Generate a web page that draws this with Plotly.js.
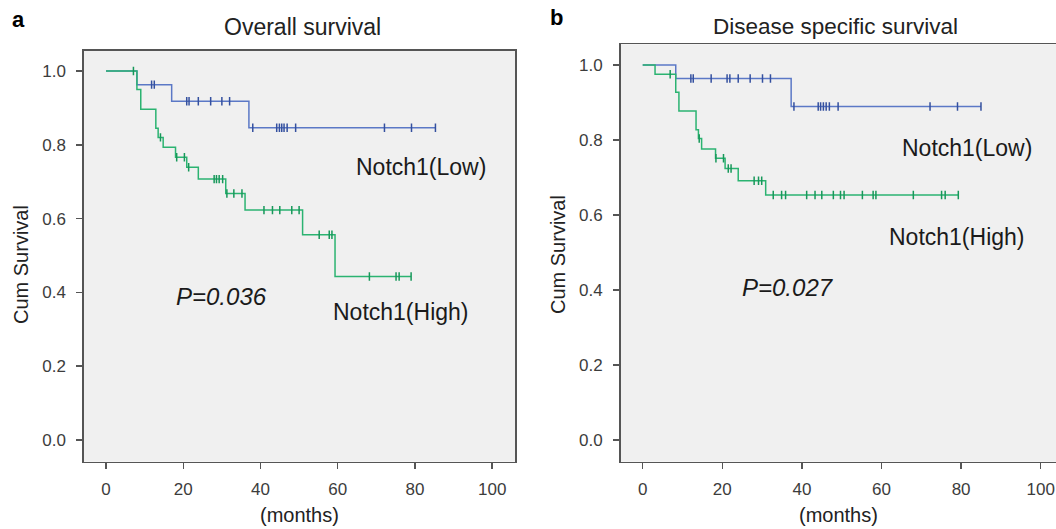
<!DOCTYPE html>
<html>
<head>
<meta charset="utf-8">
<script src="https://cdn.plot.ly/plotly-3.0.1.min.js"></script>
<style>
  html, body { margin: 0; padding: 0; background: #ffffff; }
  #chart { width: 1056px; height: 529px; }
</style>
</head>
<body>
<div id="chart"></div>
<script>
// ---------- Data ----------
// Panel a: Overall survival
const osLowEventTimes   = [8, 17, 37];
const osLowSurvival     = [0.963, 0.918, 0.846];
const osLowCensorTimes  = [11.8, 12.5, 20.9, 21.5, 23.9, 27.1, 30.0, 32.0, 38.0, 44.2, 44.9, 45.5, 46.1, 46.9, 49.1, 72.1, 79.1, 85.3];

const osHighEventTimes  = [8, 9, 12.9, 13.5, 14.8, 18.0, 20.9, 23.9, 31.0, 36.0, 50.9, 59.3];
const osHighSurvival    = [0.950, 0.896, 0.845, 0.820, 0.793, 0.766, 0.739, 0.707, 0.668, 0.623, 0.556, 0.443];
const osHighCensorTimes = [7.1, 14.1, 18.3, 20.3, 21.4, 28.0, 28.6, 29.3, 30.2, 31.3, 33.1, 35.2, 40.9, 43.1, 45.0, 48.1, 50.0, 55.2, 57.8, 58.5, 68.2, 75.1, 75.9, 79.0];

// Panel b: Disease specific survival
const dssLowEventTimes   = [8.3, 37.3];
const dssLowSurvival     = [0.964, 0.889];
const dssLowCensorTimes  = [12.1, 12.7, 17.2, 21.2, 21.9, 24.0, 27.0, 30.1, 32.1, 38.0, 44.1, 44.7, 45.4, 46.1, 46.9, 49.1, 72.2, 79.1, 85.0];

const dssHighEventTimes  = [3.1, 8.3, 9.1, 13.4, 14.0, 14.8, 18.3, 20.7, 24.0, 30.9];
const dssHighSurvival    = [0.975, 0.927, 0.877, 0.827, 0.804, 0.776, 0.751, 0.724, 0.691, 0.653];
const dssHighCensorTimes = [6.9, 14.2, 18.4, 20.3, 21.5, 22.2, 28.0, 29.1, 29.9, 32.8, 34.9, 35.9, 41.2, 43.3, 45.0, 47.9, 49.7, 50.6, 55.2, 57.9, 58.6, 68.0, 75.1, 76.0, 79.3];

const xTickValues = [0, 20, 40, 60, 80, 100];
const yTickValues = [0, 0.2, 0.4, 0.6, 0.8, 1.0];

const panelTitles = ["Overall survival", "Disease specific survival"];
const panelLetters = ["a", "b"];
const groupLabels = ["Notch1(Low)", "Notch1(High)"];
const pValueLabels = ["P=0.036", "P=0.027"];
const xAxisLabel = "(months)";
const yAxisLabel = "Cum Survival";

// ---------- Helpers ----------
function stepLine(events, surv, censors) {
  const end = Math.max(events[events.length - 1], censors[censors.length - 1]);
  return { x: [0].concat(events, [end]), y: [1].concat(surv, [surv[surv.length - 1]]) };
}
function survivalAt(t, events, surv) {
  let s = 1;
  for (let i = 0; i < events.length; i++) if (events[i] <= t) s = surv[i];
  return s;
}

const blueLine = "#5b78c6", blueMark = "#34509f";
const greenLine = "#2bb371", greenMark = "#17985a";

function groupTraces(events, surv, censors, lineColor, markColor, xa, ya, name) {
  const st = stepLine(events, surv, censors);
  return [
    { type: "scatter", mode: "lines", x: st.x, y: st.y, xaxis: xa, yaxis: ya, name: name,
      line: { shape: "hv", color: lineColor, width: 1.5 }, hoverinfo: "skip", showlegend: false },
    { type: "scatter", mode: "markers", x: censors, y: censors.map(t => survivalAt(t, events, surv)),
      xaxis: xa, yaxis: ya, name: name + " censored", showlegend: false, hoverinfo: "skip",
      marker: { symbol: "line-ns", size: 6, color: markColor, line: { color: markColor, width: 1.5 } } }
  ];
}

const traces = [].concat(
  groupTraces(osLowEventTimes, osLowSurvival, osLowCensorTimes, blueLine, blueMark, "x", "y", groupLabels[0]),
  groupTraces(osHighEventTimes, osHighSurvival, osHighCensorTimes, greenLine, greenMark, "x", "y", groupLabels[1]),
  groupTraces(dssLowEventTimes, dssLowSurvival, dssLowCensorTimes, blueLine, blueMark, "x2", "y2", groupLabels[0]),
  groupTraces(dssHighEventTimes, dssHighSurvival, dssHighCensorTimes, greenLine, greenMark, "x2", "y2", groupLabels[1])
);

// ---------- Layout ----------
const W = 1056, H = 529;
const px = v => v / W;
const py = v => 1 - v / H;
const FONT = "Liberation Sans, Arial, Helvetica, sans-serif";
const frameColor = "#555555";

function xAxisCfg(domain, range, anchor) {
  return {
    domain: domain, range: range, anchor: anchor,
    tickvals: xTickValues, ticks: "outside", ticklen: 6, tickwidth: 1.5, tickcolor: frameColor,
    ticklabelstandoff: 5,
    showline: true, linecolor: frameColor, linewidth: 1.6, mirror: true,
    showgrid: false, zeroline: false, fixedrange: true,
    tickfont: { family: FONT, size: 17, color: "#3c3c3c" }
  };
}
function yAxisCfg(domain, range, anchor, mirror) {
  return {
    domain: domain, range: range, anchor: anchor,
    tickvals: yTickValues, tickformat: ".1f", ticks: "outside", ticklen: 6, tickwidth: 1.5, tickcolor: frameColor,
    ticklabelstandoff: 7,
    showline: true, linecolor: frameColor, linewidth: 1.6, mirror: mirror,
    showgrid: false, zeroline: false, fixedrange: true,
    tickfont: { family: FONT, size: 17, color: "#3c3c3c" }
  };
}

function ann(text, x, y, size, opts) {
  return Object.assign({
    text: text, x: px(x), y: py(y), xref: "paper", yref: "paper",
    xanchor: "center", yanchor: "middle", showarrow: false,
    font: { family: FONT, size: size, color: "#1a1a1a" }
  }, opts || {});
}

const annotations = [
  ann("<b>" + panelLetters[0] + "</b>", 18, 19, 22, { font: { family: FONT, size: 22, color: "#000" } }),
  ann("<b>" + panelLetters[1] + "</b>", 556, 18, 22, { font: { family: FONT, size: 22, color: "#000" } }),
  ann(panelTitles[0], 302, 27, 23, { font: { family: FONT, size: 23, color: "#222" } }),
  ann(panelTitles[1], 835, 26, 22.5, { font: { family: FONT, size: 22.5, color: "#222" } }),
  ann(yAxisLabel, 21, 265, 20, { textangle: -90, font: { family: FONT, size: 20, color: "#222" } }),
  ann(yAxisLabel, 558, 255, 20, { textangle: -90, font: { family: FONT, size: 20, color: "#222" } }),
  ann(xAxisLabel, 299, 515, 20, { font: { family: FONT, size: 20, color: "#222" } }),
  ann(xAxisLabel, 838, 515, 20, { font: { family: FONT, size: 20, color: "#222" } }),
  ann(groupLabels[0], 421, 167, 23),
  ann(groupLabels[1], 400.5, 312, 23),
  ann("<i>" + pValueLabels[0] + "</i>", 221, 296, 24),
  ann(groupLabels[0], 967, 148, 23),
  ann(groupLabels[1], 957, 237, 23),
  ann("<i>" + pValueLabels[1] + "</i>", 787.5, 287, 24)
];

const layout = {
  width: W, height: H,
  margin: { l: 0, r: 0, t: 0, b: 0, pad: 0 },
  paper_bgcolor: "#ffffff",
  plot_bgcolor: "#f0f0f0",
  showlegend: false,
  xaxis: xAxisCfg([px(84), px(515)], [-5.7, 105.9], "y"),
  yaxis: yAxisCfg([1 - 461.7 / H, 1 - 50.7 / H], [-0.059, 1.055], "x", true),
  xaxis2: xAxisCfg([px(620.7), 1], [-5.53, 103.85], "y2"),
  yaxis2: yAxisCfg([1 - 461.7 / H, 1 - 44.3 / H], [-0.058, 1.055], "x2", false),
  annotations: annotations
};

Plotly.newPlot("chart", traces, layout, { staticPlot: true, displayModeBar: false });
</script>
</body>
</html>
